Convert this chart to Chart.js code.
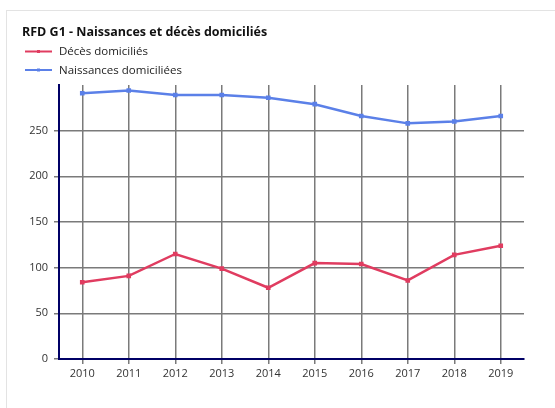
<!DOCTYPE html>
<html>
<head>
<meta charset="utf-8">
<script src="https://cdn.jsdelivr.net/npm/chart.js@4"></script>
<style>
  html, body { margin: 0; padding: 0; background: #fff; }
  #frame { position: absolute; left: 6px; top: 10px; width: 600px; height: 450px; border: 1px solid #e3e3e3; }
  #wrap { position: absolute; left: 0; top: 0; width: 555px; height: 408px; }
</style>
</head>
<body>
<div id="frame"></div>
<div id="wrap"><canvas id="naissancesChart" width="555" height="408"></canvas></div>
<script>
// Données
const years = ['2010', '2011', '2012', '2013', '2014', '2015', '2016', '2017', '2018', '2019'];
const deces = [84, 91, 115, 99, 78, 105, 104, 86, 114, 124];
const naissances = [291, 294, 289, 289, 286, 279, 266, 258, 260, 266];
const yTicks = [0, 50, 100, 150, 200, 250];

const chartTitle = 'RFD G1 - Naissances et décès domiciliés';
const FONT = "'Open Sans', 'Noto Sans', sans-serif";

// titre + légende verticale en haut à gauche
const headerPlugin = {
    id: 'header',
    afterDraw(chart) {
        const c = chart.ctx;
        c.save();
        c.fillStyle = '#111';
        c.textBaseline = 'middle';
        c.font = 'bold 12.5px ' + FONT;
        c.fillText(chartTitle, 22, 32.5);
        c.font = '11.5px ' + FONT;
        chart.data.datasets.forEach((ds, i) => {
            const y = 51.5 + i * 18.5;
            c.strokeStyle = ds.borderColor;
            c.lineWidth = 2;
            c.beginPath();
            c.moveTo(25, y);
            c.lineTo(52, y);
            c.stroke();
            c.fillStyle = ds.borderColor;
            c.fillRect(37, y - 1.5, 3, 3);
            c.fillStyle = '#222';
            c.fillText(ds.label, 59, y + 0.5);
        });
        c.restore();
    }
};

const ctx = document.getElementById('naissancesChart').getContext('2d');
const naissancesChart = new Chart(ctx, {
    type: 'line',
    data: {
        labels: years,
        datasets: [{
            label: 'Décès domiciliés',
            data: deces,
            borderColor: '#e03c60',
            backgroundColor: '#e03c60',
            borderWidth: 2.5,
            pointStyle: 'rect',
            pointRadius: 1.5,
            fill: false
        }, {
            label: 'Naissances domiciliées',
            data: naissances,
            borderColor: '#5b80e8',
            backgroundColor: '#5b80e8',
            borderWidth: 2.5,
            pointStyle: 'rect',
            pointRadius: 1.5,
            fill: false
        }]
    },
    options: {
        responsive: false,
        animation: false,
        layout: { padding: { top: 85, right: 31, left: 0, bottom: 0 } },
        plugins: {
            legend: { display: false },
            title: { display: false },
            tooltip: { enabled: false }
        },
        scales: {
            x: {
                offset: true,
                grid: { offset: false, color: '#7a7a7a', lineWidth: 1.5, tickLength: 5 },
                border: { color: '#000066', width: 2 },
                ticks: { color: '#333', font: { family: FONT, size: 11 }, padding: 3, maxRotation: 0 },
                afterFit(scale) { scale.height = 49; }
            },
            y: {
                min: 0,
                max: 300,
                afterBuildTicks(scale) { scale.ticks = yTicks.concat([300]).map(v => ({ value: v })); },
                grid: {
                    color: c => (c.tick && c.tick.value === 300) ? 'rgba(0,0,0,0)' : '#7a7a7a',
                    lineWidth: 1.5,
                    tickLength: 5
                },
                border: { color: '#000066', width: 2 },
                ticks: {
                    color: '#333',
                    font: { family: FONT, size: 11 },
                    padding: 6,
                    callback: v => yTicks.includes(v) ? String(v) : ''
                },
                afterFit(scale) { scale.width = 59; }
            }
        }
    },
    plugins: [headerPlugin]
});
</script>
</body>
</html>
